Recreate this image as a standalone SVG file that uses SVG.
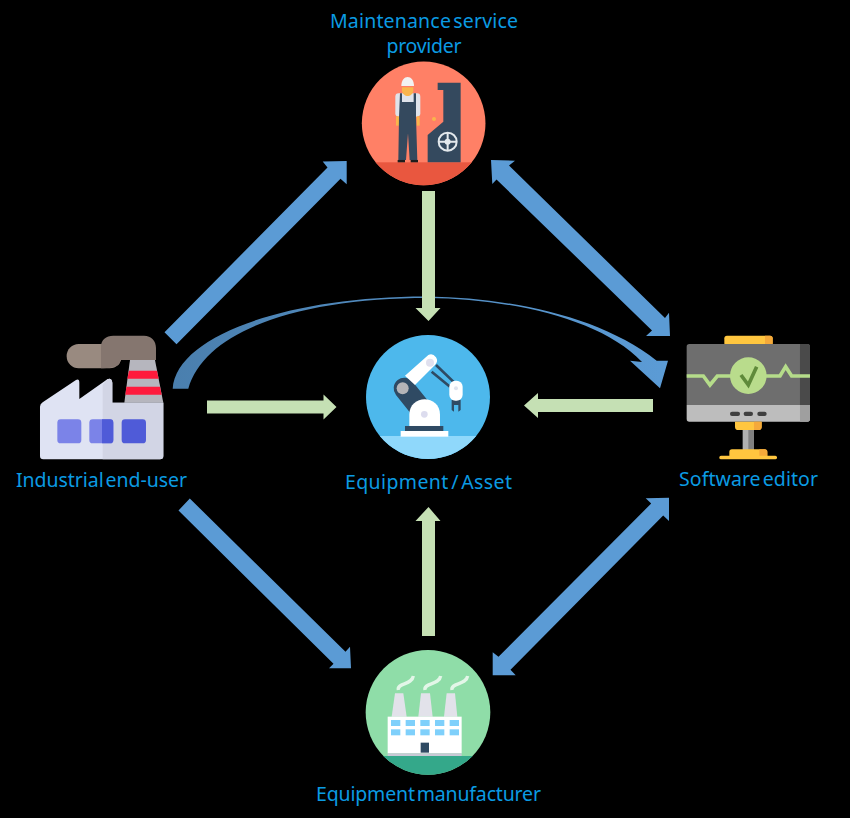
<svg xmlns="http://www.w3.org/2000/svg" width="850" height="818" viewBox="0 0 850 818">
<style>
.lbl{font-family:"Noto Sans","Liberation Sans",sans-serif;font-size:19.5px;fill:#0b9be3;text-anchor:middle;word-spacing:-3px}
.blue{fill:#5b9bd5}
.green{fill:#c5e0b4}
.dk{fill:#34495e}
</style>
<defs>
<linearGradient id="cg" gradientUnits="userSpaceOnUse" x1="172" y1="0" x2="660" y2="0"><stop offset="0" stop-color="#4a7fae"/><stop offset="1" stop-color="#5b9bd5"/></linearGradient>
<clipPath id="c1"><circle cx="251" cy="370" r="185.5"/></clipPath>
<clipPath id="c2"><circle cx="234" cy="231" r="186"/></clipPath>
<clipPath id="c3"><circle cx="234" cy="217" r="187"/></clipPath>
</defs>
<rect width="850" height="818" fill="#000"/>
<g id="connectors">
<polygon class="blue" points="164.500,332.200 327.500,167.500 322.700,161.500 346.700,161 346.700,184.300 340.500,178.800 176.500,344.200"/>
<polygon class="blue" points="491,160 515,160.700 509,165.500 665,318 669,312.700 670,336 646,336 652,330.500 496.500,179.500 492.300,184"/>
<polygon class="blue" points="189.800,498.500 345.500,651.800 350,646.700 351,668.300 329,668.300 333.500,663.800 178.500,510.500"/>
<polygon class="blue" points="669,497.700 669,521 663.200,515.500 510.500,669.800 515.700,675.300 492.700,675.300 492.700,652.300 498.500,656.800 651.200,503.500 645.700,498.300"/>
<path fill="url(#cg)" d="M172.700,388.700C176,335 290,296 428,296.500C510,298 600,316 656.700,360.700L668,360.700L660,388.300L630,360.700L642,362C600,318 510,299 428,298C300,298 205,330 188.300,388.700Z"/>
<polygon class="green" points="422,191 435,191 435,308 440.500,308 428.500,321 415.500,308 422,308"/>
<polygon class="green" points="207,400.500 323.500,400.500 323.500,394.500 336.500,407 323.500,419.500 323.500,413.500 207,413.500"/>
<polygon class="green" points="653,399 538,399 538,393 524,405.500 538,418 538,412 653,412"/>
<polygon class="green" points="422,636 435,636 435,521 440.500,521 428.500,507 415.500,521 422,521"/>
</g>
<g id="maintenance-provider">
<g transform="translate(340,0) scale(.3333)">
<circle cx="251" cy="370" r="185.500" fill="#ff8066"/>
<rect x="60" y="487" width="385" height="75" fill="#e9573f" clip-path="url(#c1)"/>
<polygon class="dk" points="293,248 362,248 362,487 263,487 263,405 310,365 310,270 293,270"/>
<circle cx="323" cy="425" r="27" fill="none" stroke="#e3e8ec" stroke-width="6"/>
<path d="M323,398V452M296,425H350" stroke="#e3e8ec" stroke-width="6"/>
<circle cx="323" cy="425" r="9" fill="#e3e8ec"/>
<circle cx="282" cy="357" r="6" fill="#f9b54c"/>
<rect x="166" y="280" width="75" height="70" rx="10" fill="#dfe3ea"/>
<rect x="168" y="349" width="9" height="28" fill="#f9b54c"/>
<rect x="230" y="349" width="9" height="28" fill="#f9b54c"/>
<path class="dk" d="M180,280H186V306H221V280H228V350L232,480H209L204,400L198,480H175L177,350Z"/>
<rect x="173" y="480" width="22" height="7" fill="#1d1d1d"/>
<rect x="212" y="480" width="22" height="7" fill="#1d1d1d"/>
<path d="M186,262H220V270C220,282 210,288 203,288C196,288 186,282 186,270Z" fill="#f9b54c"/>
<path d="M184,258C184,222 222,222 222,258Z" fill="#f2f2f2"/>
</g>
<text class="lbl" x="424" y="28" textLength="188">Maintenance service</text>
<text class="lbl" x="424" y="53" textLength="75">provider</text>
</g>
<g id="industrial-end-user">
<g transform="translate(20,320) scale(.3333)">
<rect x="140" y="72" width="165" height="73" rx="36" fill="#998a80"/>
<path d="M243,120V80C243,60 258,47 280,47H372C394,47 408,62 408,84V120H300Q302,132 290,138Q270,146 243,145Z" fill="#85766f"/>
<polygon points="330,120 405,120 430,248 313,248" fill="#b6b6be"/>
<polygon points="327,152 411,152 416,176 322,176" fill="#ff1a3c"/>
<polygon points="319,200 420,200 425,224 316,224" fill="#ff1a3c"/>
<path d="M60,260Q60,252 68,247L168,180Q178,175 178,188V237L262,178Q275,172 277,188V248H430V408Q430,418 420,418H70Q60,418 60,408Z" fill="#dfe3f3"/>
<path d="M248,195L262,178Q275,172 277,188V248H430V408Q430,418 420,418H248Z" fill="#d2d5e5"/>
<rect x="112" y="298" width="72" height="72" rx="10" fill="#7b83e8"/>
<rect x="208" y="298" width="72" height="72" rx="10" fill="#7b83e8"/>
<path d="M246,298H270Q280,298 280,308V360Q280,370 270,370H246Z" fill="#4f5bd8"/>
<rect x="305" y="298" width="73" height="72" rx="10" fill="#4f5bd8"/>
</g>
<text class="lbl" x="101.500" y="487" textLength="171">Industrial end-user</text>
</g>
<g id="equipment-asset">
<g transform="translate(350,320) scale(.3333)">
<circle cx="234" cy="231" r="186" fill="#4db8ec"/>
<rect x="40" y="348" width="390" height="75" fill="#8fd8fb" clip-path="url(#c2)"/>
<path d="M258,135L310,185M245,155L300,200" stroke="#2f4a63" stroke-width="8"/>
<path d="M305,240H332V270L325,275V255H312V275L305,270Z" fill="#2f4a63"/>
<rect x="298" y="182" width="40" height="60" rx="18" fill="#fff"/>
<circle cx="318" cy="205" r="6" fill="#dfe4ee"/>
<path d="M163,205L215,270" stroke="#2f4a63" stroke-width="64" stroke-linecap="round"/>
<circle cx="158" cy="205" r="18" fill="#b5b5b8"/>
<path d="M165,167L235,105Q248,98 258,112Q266,124 255,135L195,195Z" fill="#fff"/>
<circle cx="240" cy="128" r="12" fill="#e0e0ee"/>
<path d="M178,320V284C178,222 270,222 270,284V320Z" fill="#fff"/>
<circle cx="223" cy="283" r="10" fill="#dcdcee"/>
<rect x="165" y="318" width="115" height="15" fill="#2f4a63"/>
<rect x="152" y="333" width="143" height="17" fill="#fff"/>
</g>
<text class="lbl" x="428.500" y="489" textLength="167">Equipment / Asset</text>
</g>
<g id="software-editor">
<g transform="translate(640,320) scale(.3333)">
<rect x="253" y="47" width="145" height="30" rx="8" fill="#ffc63f"/>
<path d="M375,47H390Q398,47 398,55V72H375Z" fill="#f5a93a"/>
<path d="M140,80Q140,72 148,72H502Q510,72 510,80V255H140Z" fill="#6e6e6e"/>
<path d="M480,72H502Q510,72 510,80V255H480Z" fill="#4a4a4a"/>
<path d="M140,255H510V297Q510,305 502,305H148Q140,305 140,297Z" fill="#bdbdbd"/>
<path d="M480,255H510V297Q510,305 502,305H480Z" fill="#9f9f9f"/>
<g fill="#3f3f3f"><rect x="270" y="275" width="30" height="13" rx="6"/><rect x="311" y="275" width="28" height="13" rx="6"/><rect x="352" y="275" width="28" height="13" rx="6"/></g>
<path d="M140,168H190L210,195L232,168H420L437,140L455,168H510" fill="none" stroke="#b5dc8a" stroke-width="11"/>
<circle cx="325" cy="167" r="55" fill="#b9dc8c"/>
<path d="M303,165L325,195L350,140" fill="none" stroke="#5f8a3a" stroke-width="11"/>
<rect x="308" y="325" width="34" height="65" fill="#b0b0b0"/>
<rect x="325" y="325" width="17" height="65" fill="#808080"/>
<path d="M285,305H365V320Q365,330 355,330H295Q285,330 285,320Z" fill="#ffc63f"/>
<path d="M342,305H365V320Q365,330 355,330H342Z" fill="#f5a93a"/>
<path d="M268,408V396Q268,388 276,388H374Q382,388 382,396V408Z" fill="#ffc63f"/>
<path d="M358,388H374Q382,388 382,396V408H358Z" fill="#f5a93a"/>
<rect x="238" y="407" width="173" height="11" rx="5" fill="#ffc63f"/>
</g>
<text class="lbl" x="748.500" y="486" textLength="139">Software editor</text>
</g>
<g id="equipment-manufacturer">
<g transform="translate(350,640) scale(.3333)">
<circle cx="234" cy="217" r="187" fill="#8fdda8"/>
<rect x="40" y="348" width="390" height="65" fill="#34a88a" clip-path="url(#c3)"/>
<g fill="#e2e2ea"><polygon points="135,160 160,160 170,230 125,230"/><polygon points="213,160 240,160 248,230 205,230"/><polygon points="290,160 315,160 322,230 282,230"/></g>
<g fill="none" stroke="#e3f6e8" stroke-width="10"><path d="M145,150C140,128 186,136 190,108"/><path d="M225,150C220,128 268,136 272,108"/><path d="M306,150C301,128 349,136 353,108"/></g>
<rect x="113" y="230" width="222" height="110" fill="#fff"/>
<rect x="113" y="340" width="222" height="8" fill="#c9c9d6"/>
<g fill="#7fd0fb"><rect x="123" y="240" width="28" height="18"/><rect x="167" y="240" width="28" height="18"/><rect x="211" y="240" width="28" height="18"/><rect x="255" y="240" width="28" height="18"/><rect x="299" y="240" width="28" height="18"/><rect x="123" y="268" width="28" height="18"/><rect x="167" y="268" width="28" height="18"/><rect x="211" y="268" width="28" height="18"/><rect x="255" y="268" width="28" height="18"/><rect x="299" y="268" width="28" height="18"/></g>
<rect x="212" y="308" width="25" height="30" fill="#2f4a63"/>
</g>
<text class="lbl" x="428.500" y="801" textLength="225">Equipment manufacturer</text>
</g>
</svg>
